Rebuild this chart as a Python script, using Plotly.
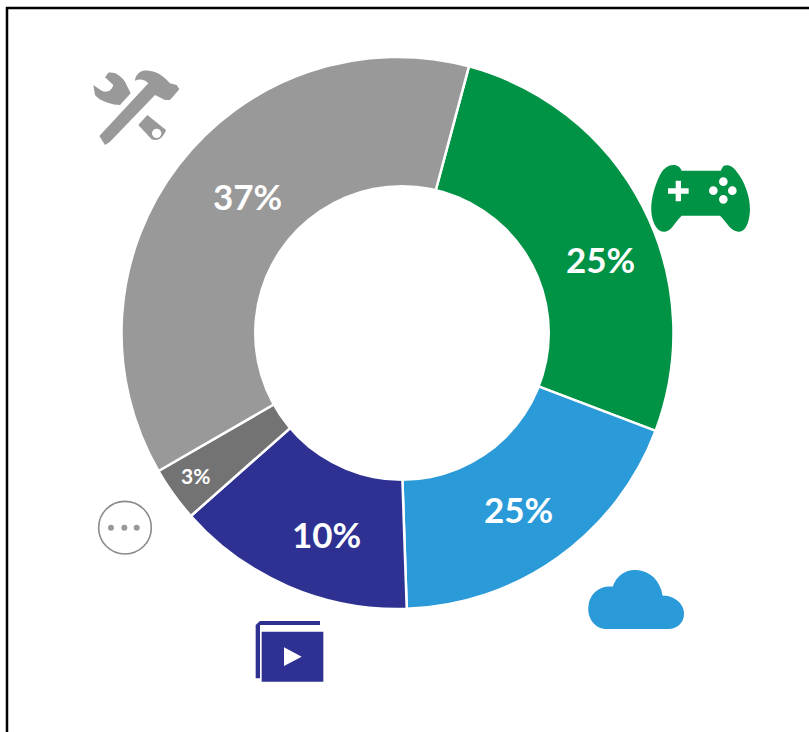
import re
import plotly.graph_objects as go

categories = ["Games", "Cloud", "Video", "Other", "Tools"]
drawn_share = [26.6, 18.7, 14.0, 3.2, 37.5]
share_labels = ["25%", "25%", "10%", "3%", "37%"]
colors = ["#009245", "#2A9AD8", "#2E3192", "#737373", "#999999"]

W, H = 809, 732
CX, CY, R = 397.5, 333, 276


def px(x, y):
    return x / W, 1 - y / H


def icon(path, ox, oy):
    """Zoomed-crop icon outline (3x) to paper coordinates."""
    nums = iter(re.findall(r"[MLCZ]|-?[\d.]+", path))
    out = []
    for tok in nums:
        if tok in "MLCZ":
            out.append(tok)
        else:
            x = ox + float(tok) / 3
            y = oy + float(next(nums)) / 3
            a, b = px(x, y)
            out.append(f"{a:.5f},{b:.5f}")
    return " ".join(out)


def fill_path(path, ox, oy, color):
    return dict(type="path", xref="paper", yref="paper", path=icon(path, ox, oy),
                fillcolor=color, line=dict(width=0), layer="above")


def circle(zx, zy, r, ox, oy, fill, line=None, lw=0):
    x, y = ox + zx / 3, oy + zy / 3
    r = r / 3
    x0, y0 = px(x - r, y + r)
    x1, y1 = px(x + r, y - r)
    return dict(type="circle", xref="paper", yref="paper", x0=x0, y0=y0, x1=x1, y1=y1,
                fillcolor=fill, line=dict(color=line or fill, width=lw), layer="above")


shapes = []
# frame (top and left only)
shapes.append(dict(type="line", xref="paper", yref="paper", x0=6 / W, x1=1, y0=1 - 8 / H, y1=1 - 8 / H,
                   line=dict(color="black", width=2.5)))
shapes.append(dict(type="line", xref="paper", yref="paper", x0=7 / W, x1=7 / W, y0=0, y1=1 - 7 / H,
                   line=dict(color="black", width=2.5)))

# donut opening, slightly right of the ring's centre as in the reference
shapes.append(circle(402 * 3, 333 * 3, 148 * 3, 0, 0, "white"))

# tools icon
G = "#999999"
o = (60, 50)
shapes.append(fill_path("M118,258 L135,285 L150,275 L285,135 L315,150 L330,150 L358,118 L350,105 L330,100 "
                        "C310,75 280,58 250,62 C235,65 225,80 225,92 C240,85 255,88 265,100 Z", *o, G))
shapes.append(fill_path("M100,105 L125,122 C140,130 155,122 160,105 L135,82 L145,68 C165,65 180,75 195,95 "
                        "L212,130 L180,165 C160,165 120,155 105,135 Z", *o, G))
shapes.append(fill_path("M262,195 L318,240 C310,262 295,275 275,268 L235,225 Z", *o, G))
shapes.append(circle(290, 250, 14, *o, "white"))

# game controller icon
GR = "#009245"
o = (630, 150)
shapes.append(fill_path("M130,45 C115,45 100,55 90,75 C70,115 60,160 65,195 C70,225 85,248 105,245 "
                        "C125,243 135,215 155,197 L270,197 C290,215 300,243 325,245 C345,248 358,220 360,180 "
                        "C360,140 345,95 320,65 C310,50 295,42 280,48 L272,62 L155,62 C150,50 140,45 130,45 Z",
                        *o, GR))
shapes.append(fill_path("M137,92 L153,92 L153,115 L176,115 L176,131 L153,131 L153,154 L137,154 L137,131 "
                        "L114,131 L114,115 L137,115 Z", *o, "white"))
for zx, zy in [(280, 95), (250, 122), (307, 122), (280, 148)]:
    shapes.append(circle(zx, zy, 13, *o, "white"))

# cloud icon
o = (570, 555)
shapes.append(fill_path("M110,222 C75,222 52,190 55,155 C58,115 90,90 128,95 C140,60 170,42 200,45 "
                        "C240,48 270,75 278,122 C310,120 345,145 342,180 C340,205 320,222 295,222 Z",
                        *o, "#2A9AD8"))

# video icon
N = "#2E3192"
o = (240, 610)
shapes.append(fill_path("M60,33 L240,33 L240,45 L60,45 L60,205 L47,205 L47,45 Z", *o, N))
shapes.append(fill_path("M65,65 L250,65 L250,215 L65,215 Z", *o, N))
shapes.append(fill_path("M132,112 L185,140 L132,168 Z", *o, "white"))

# other icon
o = (85, 490)
shapes.append(circle(120, 113, 79, *o, "white", "#8a8a8a", 1.6))
for zx in (78, 118, 155):
    shapes.append(circle(zx, 113, 9, *o, "#999999"))

fig = go.Figure(go.Pie(
    labels=categories,
    values=drawn_share,
    sort=False,
    direction="clockwise",
    rotation=15,
    hole=0.5,
    marker=dict(colors=colors, line=dict(color="white", width=2.5)),
    textinfo="none",
    hoverinfo="skip",
    showlegend=False,
    domain=dict(x=[(CX - R) / W, (CX + R) / W], y=[1 - (CY + R) / H, 1 - (CY - R) / H]),
))

label_pos = [(600, 259, 35), (518, 509, 35), (326, 534, 35), (195, 475, 21), (248, 196, 35)]
annotations = []
for txt, (x, y, s) in zip(share_labels, label_pos):
    a, b = px(x, y)
    annotations.append(dict(x=a, y=b, xref="paper", yref="paper", text=txt, showarrow=False,
                            xanchor="center", yanchor="middle",
                            font=dict(family="Lato", size=s, color="white", weight=700)))

fig.update_layout(width=W, height=H, margin=dict(l=0, r=0, t=0, b=0), paper_bgcolor="white",
                  plot_bgcolor="white", shapes=shapes, annotations=annotations, showlegend=False)
fig.write_html("out.html", config=dict(displayModeBar=False),
               post_script="document.body.style.margin='0';document.documentElement.style.overflow='hidden';")
